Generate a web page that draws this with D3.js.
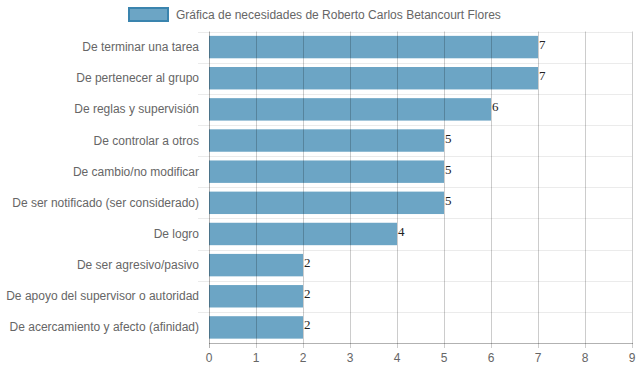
<!DOCTYPE html>
<html><head><meta charset="utf-8">
<script src="https://cdn.jsdelivr.net/npm/d3@7"></script>
<style>body{margin:0;background:#fff}svg{display:block}</style>
</head><body>
<svg id="c" width="639" height="372"></svg>
<script>
const categories = ["De terminar una tarea","De pertenecer al grupo","De reglas y supervisión","De controlar a otros","De cambio/no modificar","De ser notificado (ser considerado)","De logro","De ser agresivo/pasivo","De apoyo del supervisor o autoridad","De acercamiento y afecto (afinidad)"];
const values = [7,7,6,5,5,5,4,2,2,2];
const xTicks = [0,1,2,3,4,5,6,7,8,9];
const seriesName = "Gráfica de necesidades de Roberto Carlos Betancourt Flores";

const svg = d3.select("#c");
const L = 209, R = 632, T = 31.5, B = 343;
const x = d3.scaleLinear().domain([0,9]).range([L,R]);
const y = d3.scaleBand().domain(categories).range([T,B]).paddingInner(0.28).paddingOuter(0.14);
const yb = d3.scaleBand().domain(categories).range([T,B]);
const font = "Liberation Sans, Arial, sans-serif";

// horizontal grid
const hg = svg.append("g");
const bounds = categories.map(c=>yb(c)).concat([B]);
hg.selectAll("line").data(bounds.slice(0,-1)).join("line")
  .attr("x1",198).attr("x2",R).attr("y1",d=>Math.round(d)+0.5).attr("y2",d=>Math.round(d)+0.5)
  .attr("stroke","#ebebeb").attr("stroke-width",1);

// bars
svg.append("g").selectAll("rect").data(values).join("rect")
  .attr("x",x(0)).attr("y",(d,i)=>y(categories[i]))
  .attr("width",d=>x(d)-x(0)).attr("height",y.bandwidth())
  .attr("fill","#6ca5c5");

// vertical grid
svg.append("g").selectAll("line").data(xTicks).join("line")
  .attr("x1",d=>Math.round(x(d))+0.5).attr("x2",d=>Math.round(x(d))+0.5)
  .attr("y1",T).attr("y2",B+5)
  .attr("stroke",d=>d===0?"rgba(0,0,0,0.3)":"rgba(0,0,0,0.2)").attr("stroke-width",1);

// bottom axis line
svg.append("line").attr("x1",L).attr("x2",R+1).attr("y1",B+0.5).attr("y2",B+0.5)
  .attr("stroke","rgba(0,0,0,0.3)");

// x tick labels
svg.append("g").selectAll("text").data(xTicks).join("text")
  .attr("x",d=>x(d)).attr("y",B+19).attr("text-anchor","middle")
  .attr("font-family",font).attr("font-size",12).attr("fill","#666").text(d=>d);

// category labels
svg.append("g").selectAll("text").data(categories).join("text")
  .attr("x",199).attr("y",d=>y(d)+y.bandwidth()/2+4).attr("text-anchor","end")
  .attr("font-family",font).attr("font-size",12).attr("fill","#666").text(d=>d);

// value labels
svg.append("g").selectAll("text").data(values).join("text")
  .attr("x",d=>x(d)+1).attr("y",(d,i)=>y(categories[i])+y.bandwidth()/2+2)
  .attr("font-family","Liberation Serif, Times New Roman, serif").attr("font-size",13).attr("fill","#222").text(d=>d);

// legend
svg.append("rect").attr("x",129).attr("y",8).attr("width",39).attr("height",13)
  .attr("fill","#6ca5c5").attr("stroke","#3a84ae").attr("stroke-width",2);
svg.append("text").attr("x",176).attr("y",19).attr("font-family",font).attr("font-size",12)
  .attr("fill","#666").text(seriesName);
</script>
</body></html>
